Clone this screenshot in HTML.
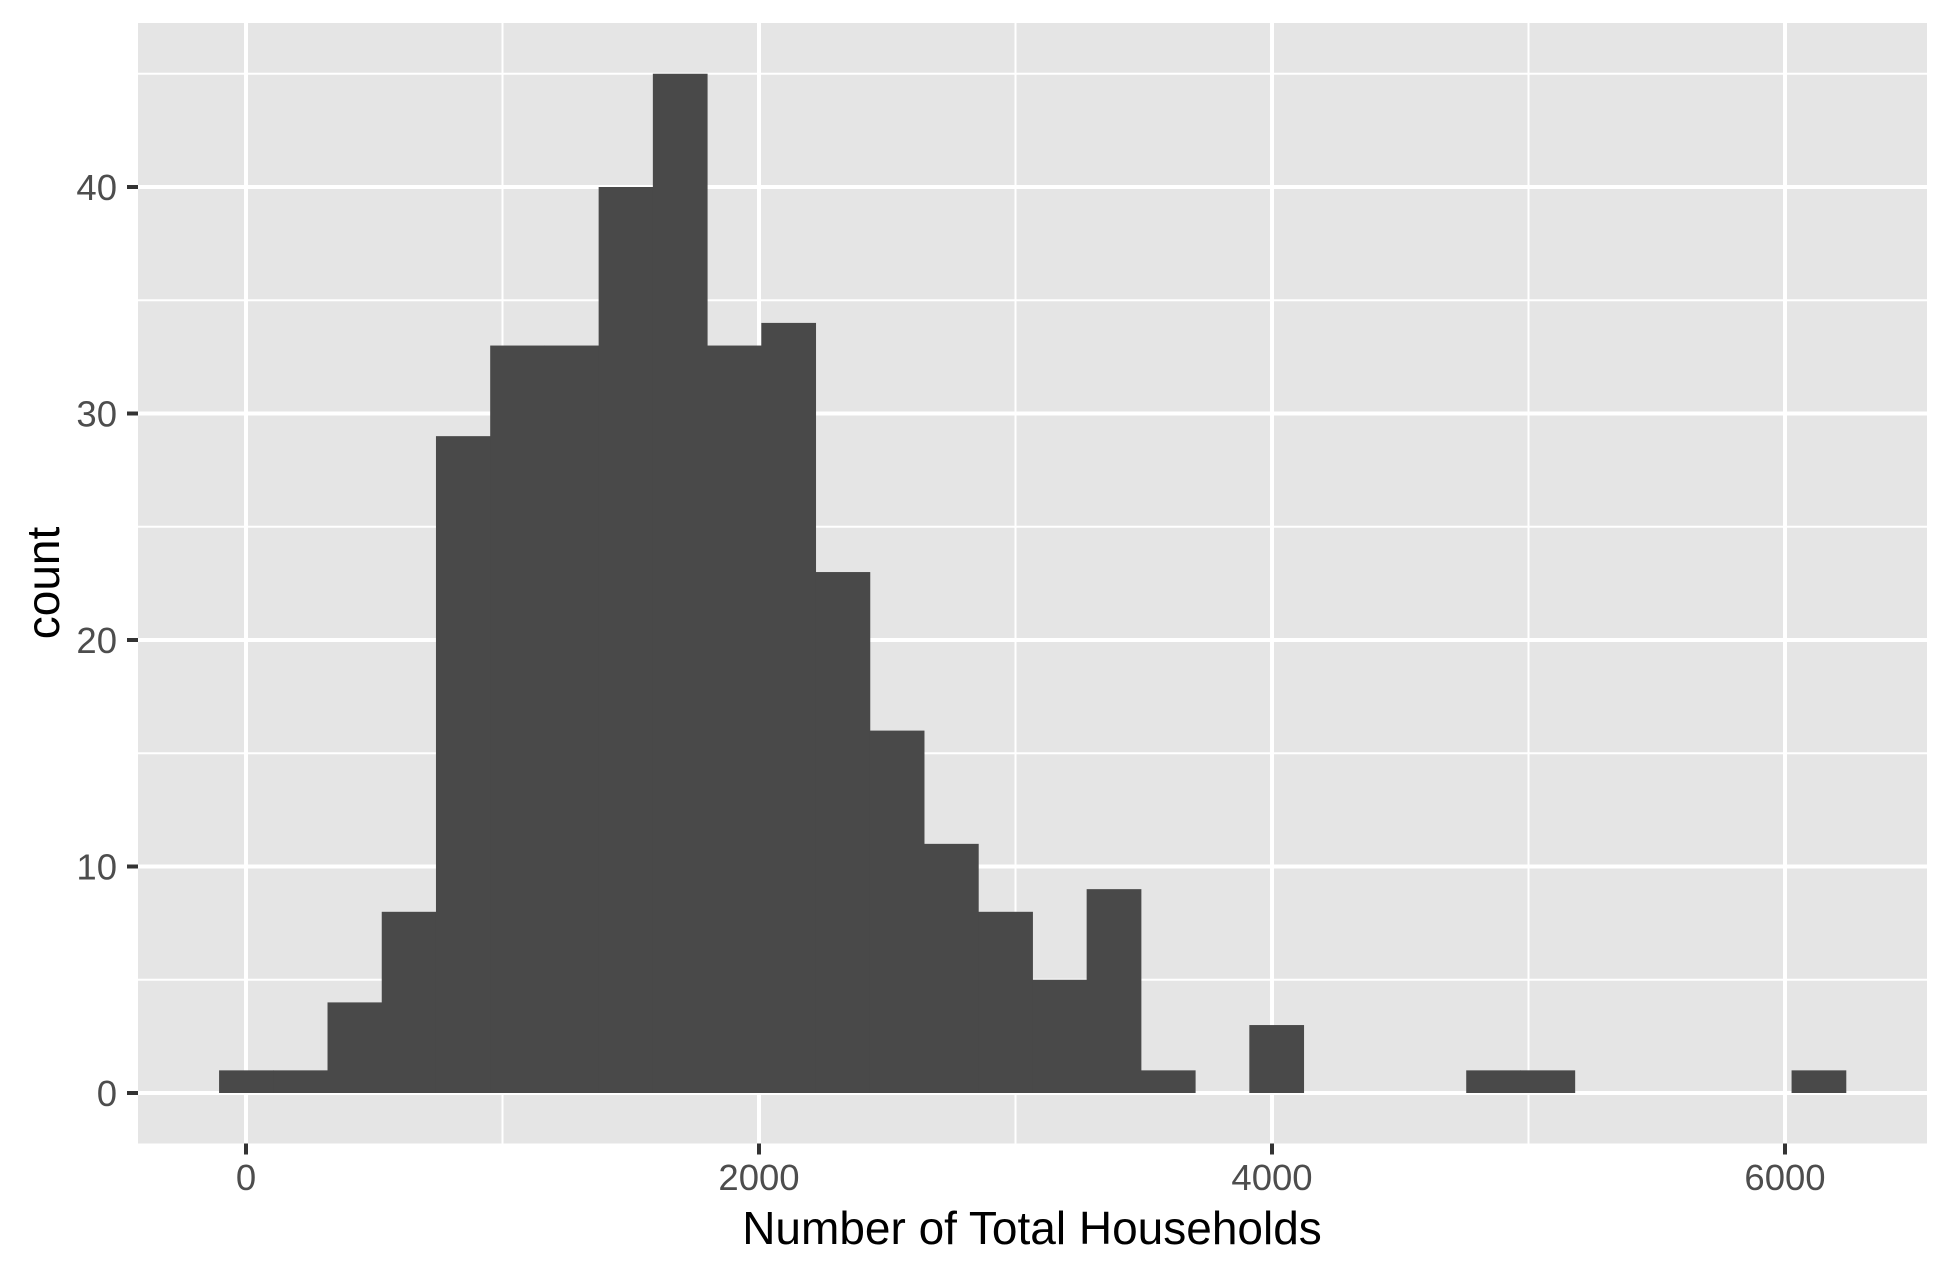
<!DOCTYPE html>
<html><head><meta charset="utf-8"><style>
html,body{margin:0;padding:0;background:#fff}
svg{display:block;font-family:"Liberation Sans",Arial,sans-serif}
</style></head><body>
<svg id="chart" width="1950" height="1275" viewBox="0 0 1950 1275">
<rect x="138" y="23" width="1789" height="1120.5" fill="#e5e5e5"/>
<g id="grid"></g><g id="bars"></g><g id="axes"></g>
<text x="1032" y="1244" font-size="46" text-anchor="middle" fill="#000">Number of Total Households</text>
<text transform="translate(59,583) rotate(-90)" font-size="46" text-anchor="middle" fill="#000">count</text>
</svg>
<script>
const counts = [1,1,4,8,29,33,33,40,45,33,34,23,16,11,8,5,9,1,0,3,0,0,0,1,1,0,0,0,0,1];
const binStart = -105;
const binWidth = 211.4;
const xTicks = [0,2000,4000,6000];
const xMinor = [1000,3000,5000];
const yTicks = [0,10,20,30,40];
const yMinor = [5,15,25,35,45];
const NS="http://www.w3.org/2000/svg";
const X = v => 246 + v*0.2565;
const Y = v => 1093 - v*22.65;
const L=138,R=1927,T=23,B=1143.5;
function mk(tag,attrs,parent){const e=document.createElementNS(NS,tag);for(const k in attrs)e.setAttribute(k,attrs[k]);parent.appendChild(e);return e;}
const grid=document.getElementById('grid'),bars=document.getElementById('bars'),axes=document.getElementById('axes');
xMinor.forEach(v=>{const l=mk('line',{x1:X(v),x2:X(v),y1:T,y2:B,stroke:'#fff','stroke-width':2},grid);

});
yMinor.forEach(v=>{const l=mk('line',{x1:L,x2:R,y1:Y(v),y2:Y(v),stroke:'#fff','stroke-width':2},grid);

});
xTicks.forEach(v=>{const l=mk('line',{x1:X(v),x2:X(v),y1:T,y2:B,stroke:'#fff','stroke-width':4},grid);


const t=mk('line',{x1:X(v),x2:X(v),y1:B,y2:B+11,stroke:'#333','stroke-width':4},axes);


const tx=mk('text',{x:X(v),y:1190,'font-size':36.5,'text-anchor':'middle',fill:'#4d4d4d'},axes);tx.textContent=v;

});
yTicks.forEach(v=>{const l=mk('line',{x1:L,x2:R,y1:Y(v),y2:Y(v),stroke:'#fff','stroke-width':4},grid);


const t=mk('line',{x1:L-11,x2:L,y1:Y(v),y2:Y(v),stroke:'#333','stroke-width':4},axes);


const tx=mk('text',{x:117,y:Y(v)+13,'font-size':36.5,'text-anchor':'end',fill:'#4d4d4d'},axes);tx.textContent=v;

});
counts.forEach((c,i)=>{if(c<=0)return;const x0=X(binStart+i*binWidth),x1=X(binStart+(i+1)*binWidth);
const r=mk('rect',{x:x0,y:Y(c),width:x1-x0+0.5,height:Y(0)-Y(c),fill:'#494949'},bars);

});
</script>
</body></html>
